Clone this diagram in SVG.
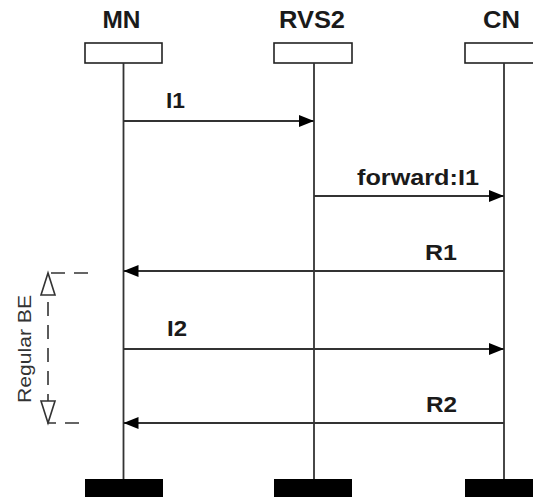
<svg xmlns="http://www.w3.org/2000/svg" width="533" height="497" viewBox="0 0 533 497">
<style>
.head{fill:#fff;stroke:#222;stroke-width:1.6}
.foot{fill:#000;stroke:none}
.life{stroke:#333;stroke-width:1.8;fill:none}
.name{font-family:"Liberation Sans",Arial,sans-serif;font-weight:bold;font-size:23px;fill:#1a1a1a;text-anchor:middle}
.lbl{font-family:"Liberation Sans",Arial,sans-serif;font-weight:bold;font-size:22px;fill:#1a1a1a}
.msg{stroke:#333;stroke-width:1.8;fill:none;marker-end:url(#ah)}
.dash{stroke:#333;stroke-width:1.6;fill:none;stroke-dasharray:14 9}
.open{fill:#fff;stroke:#333;stroke-width:1.6}
.side{font-family:"Liberation Sans",Arial,sans-serif;font-size:18px;fill:#333;text-anchor:middle}
</style>
<defs>
<marker id="ah" markerUnits="userSpaceOnUse" markerWidth="16" markerHeight="12" refX="15" refY="6" orient="auto">
<path d="M0,0 L15,6 L0,12 Z" fill="#000"/>
</marker>
</defs>
<g id="MN">
<text class="name" x="121.5" y="28" textLength="38" lengthAdjust="spacingAndGlyphs">MN</text>
<rect class="head" x="85" y="43" width="77" height="20"/>
<line class="life" x1="123.5" y1="63" x2="123.5" y2="479"/>
<rect class="foot" x="85" y="479" width="78" height="18"/>
</g>
<g id="RVS2">
<text class="name" x="312" y="28" textLength="66" lengthAdjust="spacingAndGlyphs">RVS2</text>
<rect class="head" x="274" y="43" width="78" height="20"/>
<line class="life" x1="314" y1="63" x2="314" y2="479"/>
<rect class="foot" x="274" y="479" width="78" height="18"/>
</g>
<g id="CN">
<text class="name" x="501.5" y="28" textLength="37" lengthAdjust="spacingAndGlyphs">CN</text>
<rect class="head" x="465" y="43" width="78" height="20"/>
<line class="life" x1="504" y1="63" x2="504" y2="479"/>
<rect class="foot" x="465" y="479" width="78" height="18"/>
</g>
<g id="connectors">
<line class="msg" x1="123.5" y1="121" x2="314" y2="121"/>
<text class="lbl" x="166" y="108" textLength="19" lengthAdjust="spacingAndGlyphs">I1</text>
<line class="msg" x1="314" y1="196" x2="504" y2="196"/>
<text class="lbl" x="357" y="185" textLength="122" lengthAdjust="spacingAndGlyphs">forward:I1</text>
<line class="msg" x1="504" y1="271" x2="123.5" y2="271"/>
<text class="lbl" x="425" y="260" textLength="32" lengthAdjust="spacingAndGlyphs">R1</text>
<line class="msg" x1="123.5" y1="349" x2="504" y2="349"/>
<text class="lbl" x="167" y="336" textLength="20" lengthAdjust="spacingAndGlyphs">I2</text>
<line class="msg" x1="504" y1="423" x2="123.5" y2="423"/>
<text class="lbl" x="426" y="412" textLength="31" lengthAdjust="spacingAndGlyphs">R2</text>
</g>
<g id="RegularBE">
<path class="dash" d="M88,273 H48 V423 H88"/>
<path class="open" d="M48,273 L41,295 L55,295 Z"/>
<path class="open" d="M48,423 L41,401 L55,401 Z"/>
<text class="side" transform="translate(31,349) rotate(-90)" x="0" y="0" textLength="108" lengthAdjust="spacingAndGlyphs">Regular BE</text>
</g>
</svg>
